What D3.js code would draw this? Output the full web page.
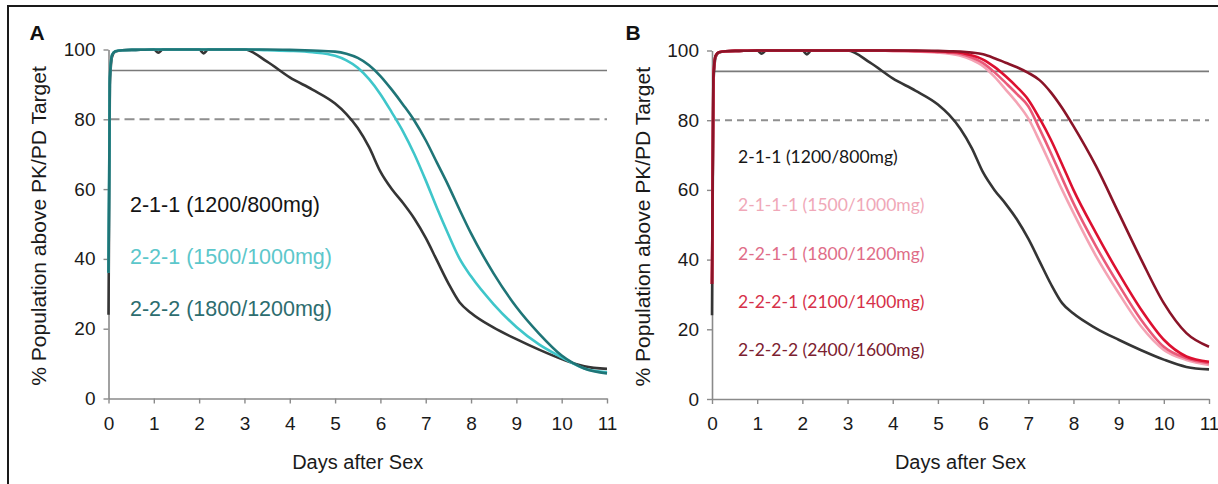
<!DOCTYPE html>
<html>
<head>
<meta charset="utf-8">
<script src="https://cdn.jsdelivr.net/npm/d3@7"></script>
<style>
  html, body { margin: 0; padding: 0; background: #fff; }
  svg { display: block; }
</style>
</head>
<body>
<svg id="chart" width="1218" height="484"></svg>
<script>
// time grid (days after sex) shared by all series
const days = [0, 0.03, 0.08, 0.15, 0.3, 0.6, 1, 1.1, 1.2, 2, 2.1, 2.2, 2.5, 3, 3.5, 4, 4.5,
    5, 5.25, 5.5, 5.75, 6, 6.25, 6.5, 6.75, 7, 7.25, 7.5, 7.75, 8, 8.5, 9, 9.5, 10, 10.5, 11];

// % population above PK/PD target
const reg211  = [24, 90, 98, 99.4, 99.8, 99.9, 100, 99.1, 100, 100, 98.9, 100, 100, 100, 96.5, 92, 88.5,
    84.5, 81.5, 77.5, 72, 65, 60, 56, 51.5, 46, 39.5, 33, 27.5, 24.5, 20.3, 17, 14, 11.3, 9.2, 8.5];
const reg221  = [36, 92, 98.5, 99.5, 99.8, 99.9, 100, 100, 100, 100, 100, 100, 100, 100, 99.8, 99.6, 99.2,
    98.2, 96.9, 94.8, 91.5, 87.2, 82, 76.5, 70, 62.5, 54.5, 47, 40, 35, 27, 20.5, 15.5, 11.8, 8.6, 7.5];
const reg222  = [36, 92, 98.5, 99.5, 99.8, 99.9, 100, 100, 100, 100, 100, 100, 100, 100, 100, 99.9, 99.7,
    99.4, 98.8, 97.6, 95.5, 92.4, 88.5, 84.2, 79.6, 74, 67.5, 61, 54, 47.3, 35.8, 26.2, 18.6, 12.3, 8.6, 7.2];
const reg2111 = [33, 92, 98.5, 99.5, 99.8, 99.9, 100, 100, 100, 100, 100, 100, 100, 100, 100, 99.9, 99.7,
    99.4, 99.1, 98.5, 97.3, 95.5, 92.5, 88.8, 85, 80.5, 74, 67, 60, 53.4, 41, 30.4, 20.8, 14.1, 11.2, 9.8];
const reg2211 = [33, 92, 98.5, 99.5, 99.8, 99.9, 100, 100, 100, 100, 100, 100, 100, 100, 100, 99.9, 99.8,
    99.6, 99.4, 99, 98, 96.4, 93.8, 90.7, 87.5, 84, 77.5, 70.6, 63.3, 56.2, 43.8, 32.8, 22.7, 15, 11.7, 10.3];
const reg2221 = [33, 92, 98.5, 99.5, 99.8, 99.9, 100, 100, 100, 100, 100, 100, 100, 100, 100, 100, 99.9,
    99.8, 99.6, 99.4, 98.6, 97.4, 95.3, 92.6, 89.5, 85.9, 80.5, 74.4, 67.3, 60, 47.6, 36.1, 25.6, 17, 12.2, 10.7];
const reg2222 = [33, 92, 98.5, 99.5, 99.8, 99.9, 100, 100, 100, 100, 100, 100, 100, 100, 100, 100, 100,
    99.9, 99.8, 99.7, 99.4, 98.9, 97.8, 96.5, 95.2, 93.6, 91.5, 88, 83.5, 78.3, 66.8, 53.4, 40, 27.5, 18.9, 15];

const labelsA = ["2-1-1 (1200/800mg)", "2-2-1 (1500/1000mg)", "2-2-2 (1800/1200mg)"];
const labelsB = ["2-1-1 (1200/800mg)", "2-1-1-1 (1500/1000mg)", "2-2-1-1 (1800/1200mg)", "2-2-2-1 (2100/1400mg)", "2-2-2-2 (2400/1600mg)"];

const dayTicks = [0, 1, 2, 3, 4, 5, 6, 7, 8, 9, 10, 11];
const pctTicks = [0, 20, 40, 60, 80, 100];
const targetLine = 94;
const thresholdLine = 80;

const svg = d3.select("#chart")

// frame (top + left edges)
svg.append("path")
    .attr("d", "M8,484V6H1218")
    .attr("fill", "none")
    .attr("stroke", "#1a1a1a")
    .attr("stroke-width", 2)

function drawPanel(opts) {
    const { left, right, top, bottom, letter, letterX, ytitleX, series, colors, textColors, labels, legend, dash } = opts

    const x = d3.scaleLinear().domain([0, 11]).range([left, right])
    const y = d3.scaleLinear().domain([0, 100]).range([bottom, top])

    const g = svg.append("g")

    // reference lines
    g.append("line")
        .attr("x1", x(0) + 1).attr("x2", x(11))
        .attr("y1", y(targetLine)).attr("y2", y(targetLine))
        .attr("stroke", "#7a7a7a").attr("stroke-width", 1.6)
    g.append("line")
        .attr("x1", x(0) + 1).attr("x2", x(11))
        .attr("y1", y(thresholdLine)).attr("y2", y(thresholdLine))
        .attr("stroke", "#8f8f8f").attr("stroke-width", 2)
        .attr("stroke-dasharray", dash)

    // axes
    const xAxis = g.append("g")
        .attr("transform", `translate(0,${bottom})`)
        .call(d3.axisBottom(x).tickValues(dayTicks).tickSize(5).tickPadding(13).tickSizeOuter(0))
    const yAxis = g.append("g")
        .attr("transform", `translate(${left},0)`)
        .call(d3.axisLeft(y).tickValues(pctTicks).tickSize(5).tickPadding(8).tickSizeOuter(0))

    ;[xAxis, yAxis].forEach(ax => {
        ax.select(".domain").attr("stroke", "#8a8a8a").attr("stroke-width", 1.6)
        ax.selectAll(".tick line").attr("stroke", "#8a8a8a").attr("stroke-width", 1.4)
        ax.selectAll(".tick text")
            .attr("fill", "#1a1a1a")
            .style("font-family", "Liberation Sans, Arial, sans-serif")
            .style("font-size", "19px")
    })

    // curves
    const line = d3.line()
        .x((d, i) => x(days[i]))
        .y(d => y(d))
        .curve(d3.curveMonotoneX)

    series.forEach((s, i) => {
        g.append("path")
            .attr("d", line(s))
            .attr("fill", "none")
            .attr("stroke", colors[i])
            .attr("stroke-width", 2.6)
            .attr("stroke-linejoin", "round")
    })

    // legend text
    labels.forEach((lab, i) => {
        g.append("text")
            .attr("x", legend.x)
            .attr("y", legend.y + i * legend.step)
            .attr("dy", "0.35em")
            .attr("fill", textColors[i])
            .style("font-family", legend.font)
            .style("font-size", legend.size + "px")
            .text(lab)
    })

    // titles
    g.append("text")
        .attr("x", (left + right) / 2)
        .attr("y", 462)
        .attr("dy", "0.35em")
        .attr("text-anchor", "middle")
        .attr("fill", "#1a1a1a")
        .style("font-family", "Liberation Sans, Arial, sans-serif")
        .style("font-size", "20px")
        .text("Days after Sex")

    g.append("text")
        .attr("transform", `translate(${ytitleX},${(top + bottom) / 2 + 2}) rotate(-90)`)
        .attr("dy", "0.35em")
        .attr("text-anchor", "middle")
        .attr("fill", "#1a1a1a")
        .style("font-family", "Liberation Sans, Arial, sans-serif")
        .style("font-size", "21px")
        .text("% Population above PK/PD Target")

    g.append("text")
        .attr("x", letterX)
        .attr("y", 33)
        .attr("dy", "0.35em")
        .attr("text-anchor", "middle")
        .attr("fill", "#111")
        .style("font-family", "Liberation Sans, Arial, sans-serif")
        .style("font-size", "21px")
        .style("font-weight", "bold")
        .text(letter)
}

drawPanel({
    left: 108.5, right: 607, top: 49.5, bottom: 398.5,
    letter: "A", letterX: 37, ytitleX: 39,
    series: [reg211, reg221, reg222],
    colors: ["#353535", "#3fc6ca", "#1f7577"],
    textColors: ["#141414", "#5cc7cb", "#2d6d6f"],
    labels: labelsA,
    legend: { x: 130, y: 204, step: 52, font: "Liberation Sans, Arial, sans-serif", size: 21.5 },
    dash: "10,5"
})

drawPanel({
    left: 712, right: 1209, top: 50.5, bottom: 399,
    letter: "B", letterX: 633, ytitleX: 643,
    series: [reg211, reg2111, reg2211, reg2221, reg2222],
    colors: ["#353535", "#f4a3b4", "#ea5a79", "#dc1030", "#8a1428"],
    textColors: ["#161616", "#f0a8b8", "#e06d88", "#d63049", "#7c2030"],
    labels: labelsB,
    legend: { x: 738, y: 157, step: 48.3, font: "Lato, Open Sans, sans-serif", size: 17.5 },
    dash: "7,5"
})
</script>
</body>
</html>
